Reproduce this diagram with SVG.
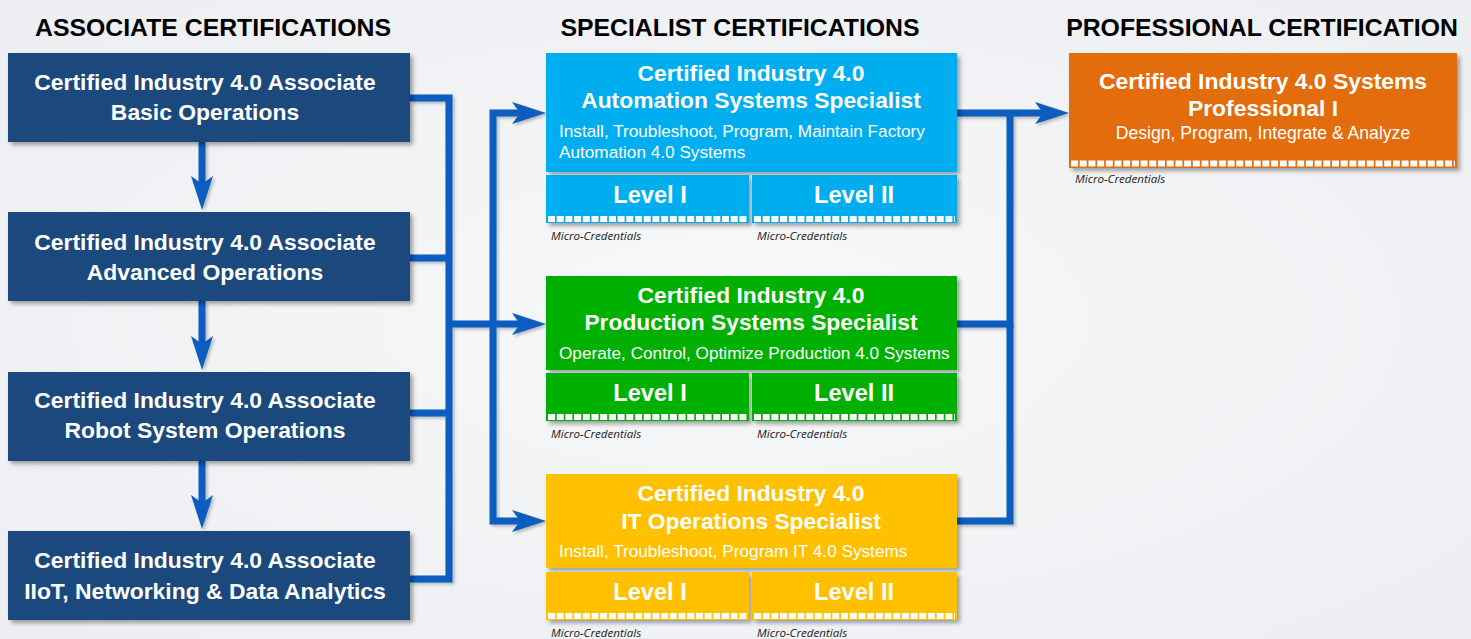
<svg xmlns="http://www.w3.org/2000/svg" width="1471" height="639" viewBox="0 0 1471 639">
  <defs>
    <filter id="sh" x="-5%" y="-5%" width="115%" height="120%">
      <feDropShadow dx="3" dy="3" stdDeviation="2" flood-color="#000" flood-opacity="0.35"/>
    </filter>
    <filter id="lsh" x="-10%" y="-10%" width="130%" height="130%">
      <feDropShadow dx="2" dy="2" stdDeviation="1.5" flood-color="#000" flood-opacity="0.25"/>
    </filter>
    <marker id="ah" markerUnits="userSpaceOnUse" viewBox="0 -11 34 22" refX="8" refY="0" markerWidth="34" markerHeight="22" orient="auto">
      <path d="M0,-11 L34,0 L0,11 L8,0 Z" fill="#0b5cbf"/>
    </marker>
    <radialGradient id="bg" cx="50%" cy="50%" r="70%">
      <stop offset="0" stop-color="#f7f8f9"/>
      <stop offset="1" stop-color="#eceef1"/>
    </radialGradient>
  </defs>
  <style>
    .hdr{font-family:"Liberation Sans",Arial,sans-serif;font-weight:bold;font-size:24.8px;fill:#000;text-anchor:middle}
    .assoc{fill:#1f497d;filter:url(#sh)}
    .at{font-family:"Liberation Sans",Arial,sans-serif;font-weight:bold;font-size:22.9px;fill:#fff;text-anchor:middle}
    .st{font-family:"Liberation Sans",Arial,sans-serif;font-weight:bold;font-size:22.8px;fill:#fff;text-anchor:middle}
    .sub{font-family:"Liberation Sans",Arial,sans-serif;font-size:17.2px;fill:#fff}
    .lvl{font-family:"Liberation Sans",Arial,sans-serif;font-weight:bold;font-size:23.6px;fill:#fff;text-anchor:middle}
    .mc{font-family:"Open Sans","Liberation Sans",sans-serif;font-style:italic;font-size:11.6px;fill:#222}
    .dash{stroke:#fff;stroke-width:6;stroke-dasharray:7 1.7;fill:none}
    .box{filter:url(#sh)}
    .cn{fill:none;stroke:#0b5cbf;stroke-width:7;stroke-linejoin:miter}
  </style>
  <rect width="1471" height="639" fill="url(#bg)"/>

  <text class="hdr" x="213" y="36">ASSOCIATE CERTIFICATIONS</text>
  <text class="hdr" x="740" y="36">SPECIALIST CERTIFICATIONS</text>
  <text class="hdr" x="1262" y="36">PROFESSIONAL CERTIFICATION</text>

  <g id="connectors" filter="url(#lsh)">
    <path class="cn" d="M410,98 H449 V579 H410"/>
    <path class="cn" d="M410,258 H449"/>
    <path class="cn" d="M410,413 H449"/>
    <path class="cn" d="M449,324 H520" marker-end="url(#ah)"/>
    <path class="cn" d="M493,324 V113 H520" marker-end="url(#ah)"/>
    <path class="cn" d="M493,324 V521 H520" marker-end="url(#ah)"/>
    <path class="cn" d="M957,324 H1010 V113"/>
    <path class="cn" d="M957,521 H1010 V324"/>
    <path class="cn" d="M957,113 H1043" marker-end="url(#ah)"/>
    <path class="cn" d="M202,142 V184" marker-end="url(#ah)"/>
    <path class="cn" d="M202,301 V344" marker-end="url(#ah)"/>
    <path class="cn" d="M202,461 V503" marker-end="url(#ah)"/>
  </g>

  <g id="assoc-basic">
    <rect class="assoc" x="8" y="53" width="402" height="89"/>
    <text class="at" x="205" y="90">Certified Industry 4.0 Associate</text>
    <text class="at" x="205" y="120">Basic Operations</text>
  </g>
  <g id="assoc-advanced">
    <rect class="assoc" x="8" y="212" width="402" height="89"/>
    <text class="at" x="205" y="250">Certified Industry 4.0 Associate</text>
    <text class="at" x="205" y="280">Advanced Operations</text>
  </g>
  <g id="assoc-robot">
    <rect class="assoc" x="8" y="372" width="402" height="89"/>
    <text class="at" x="205" y="408">Certified Industry 4.0 Associate</text>
    <text class="at" x="205" y="438">Robot System Operations</text>
  </g>
  <g id="assoc-iiot">
    <rect class="assoc" x="8" y="531" width="402" height="89"/>
    <text class="at" x="205" y="568">Certified Industry 4.0 Associate</text>
    <text class="at" x="205" y="599">IIoT, Networking &amp; Data Analytics</text>
  </g>

  <g id="spec-automation">
    <rect class="box" x="546" y="53" width="411" height="119" fill="#00aeef"/>
    <text class="st" x="751" y="81">Certified Industry 4.0</text>
    <text class="st" x="751" y="108">Automation Systems Specialist</text>
    <text class="sub" x="559" y="137">Install, Troubleshoot, Program, Maintain Factory</text>
    <text class="sub" x="559" y="158">Automation 4.0 Systems</text>
    <rect class="box" x="546" y="175" width="203" height="48" fill="#00aeef"/>
    <rect class="box" x="752" y="175" width="205" height="48" fill="#00aeef"/>
    <line class="dash" x1="548" y1="219" x2="747" y2="219"/>
    <line class="dash" x1="754" y1="219" x2="955" y2="219"/>
    <text class="lvl" x="650" y="203">Level I</text>
    <text class="lvl" x="854" y="203">Level II</text>
    <text class="mc" x="551" y="240">Micro-Credentials</text>
    <text class="mc" x="757" y="240">Micro-Credentials</text>
  </g>

  <g id="spec-production">
    <rect class="box" x="546" y="276" width="411" height="94" fill="#00b000"/>
    <text class="st" x="751" y="303">Certified Industry 4.0</text>
    <text class="st" x="751" y="330">Production Systems Specialist</text>
    <text class="sub" x="559" y="359">Operate, Control, Optimize Production 4.0 Systems</text>
    <rect class="box" x="546" y="373" width="203" height="48" fill="#00b000"/>
    <rect class="box" x="752" y="373" width="205" height="48" fill="#00b000"/>
    <line class="dash" x1="548" y1="417" x2="747" y2="417"/>
    <line class="dash" x1="754" y1="417" x2="955" y2="417"/>
    <text class="lvl" x="650" y="401">Level I</text>
    <text class="lvl" x="854" y="401">Level II</text>
    <text class="mc" x="551" y="438">Micro-Credentials</text>
    <text class="mc" x="757" y="438">Micro-Credentials</text>
  </g>

  <g id="spec-it">
    <rect class="box" x="546" y="474" width="411" height="94" fill="#ffc000"/>
    <text class="st" x="751" y="501">Certified Industry 4.0</text>
    <text class="st" x="751" y="529">IT Operations Specialist</text>
    <text class="sub" x="559" y="557">Install, Troubleshoot, Program IT 4.0 Systems</text>
    <rect class="box" x="546" y="572" width="203" height="48" fill="#ffc000"/>
    <rect class="box" x="752" y="572" width="205" height="48" fill="#ffc000"/>
    <line class="dash" x1="548" y1="616" x2="747" y2="616"/>
    <line class="dash" x1="754" y1="616" x2="955" y2="616"/>
    <text class="lvl" x="650" y="600">Level I</text>
    <text class="lvl" x="854" y="600">Level II</text>
    <text class="mc" x="551" y="637">Micro-Credentials</text>
    <text class="mc" x="757" y="637">Micro-Credentials</text>
  </g>

  <g id="professional">
    <rect class="box" x="1069" y="53" width="388" height="115" fill="#e36c0a"/>
    <text class="at" x="1263" y="89">Certified Industry 4.0 Systems</text>
    <text class="at" x="1263" y="116">Professional I</text>
    <text class="sub" x="1263" y="139" text-anchor="middle" style="font-size:17.6px">Design, Program, Integrate &amp; Analyze</text>
    <line class="dash" x1="1071" y1="163.5" x2="1455" y2="163.5"/>
    <text class="mc" x="1075" y="183">Micro-Credentials</text>
  </g>
</svg>
